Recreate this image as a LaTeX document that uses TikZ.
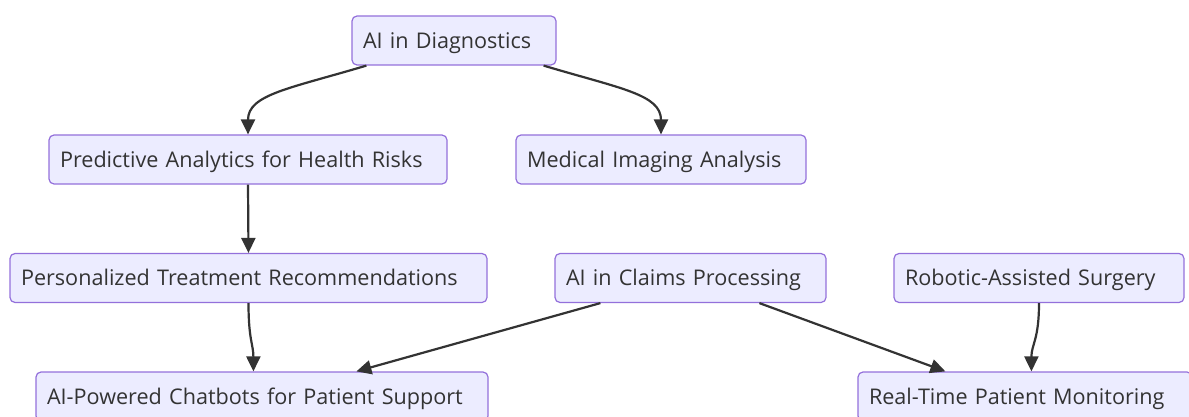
\documentclass[tikz,border=0pt]{standalone}
\usepackage{fontspec}
\setmainfont{Open Sans}
\usetikzlibrary{arrows.meta,calc}
\definecolor{nodefill}{HTML}{ECECFF}
\definecolor{nodeedge}{HTML}{9370DB}
\definecolor{inkgray}{HTML}{333333}
\tikzset{
  box/.style={draw=nodeedge, fill=nodefill, rounded corners=5pt, line width=1.2pt,
    minimum height=49pt, inner xsep=11pt, inner ysep=0pt, align=left,
    text height=15.4pt, text depth=0pt,
    text=inkgray, font=\fontsize{21.6}{24}\selectfont, anchor=center},
  link/.style={draw=inkgray, line width=2.2pt, -{Triangle[length=15pt,width=14pt]}}
}
\newcommand{\bx}[5]{\node[box, minimum width=#4pt, text width=#4pt-22pt] (#1) at (#2,#3) {#5};}
\begin{document}
\begin{tikzpicture}[x=1pt,y=-1pt]
\useasboundingbox (0,0) rectangle (1189,417);
\bx{diag}{454}{40.5}{204}{AI in Diagnostics}
\bx{pred}{248}{159.5}{398}{Predictive Analytics for Health Risks}
\bx{med}{661}{159.5}{290}{Medical Imaging Analysis}
\bx{pers}{248.5}{278}{477}{Personalized Treatment Recommendations}
\bx{claims}{690.5}{278}{271}{AI in Claims Processing}
\bx{robot}{1039}{278}{290}{Robotic-Assisted Surgery}
\bx{chat}{262}{396.5}{452}{AI-Powered Chatbots for Patient Support}
\bx{real}{1025}{396.5}{334}{Real-Time Patient Monitoring}
\draw[link] ([xshift=15pt]diag.south west) .. controls +(-77,23) and +(0,-40) .. (pred.north);
\draw[link] ([xshift=-13pt]diag.south east) .. controls +(77,23) and +(0,-40) .. (med.north);
\draw[link] (pred.south) -- (pers.north);
\draw[link] (pers.south) .. controls +(0,37) and +(0,-27) .. ([xshift=218pt]chat.north west);
\draw[link] ([xshift=46pt]claims.south west) -- ([xshift=321pt]chat.north west);
\draw[link] ([xshift=205pt]claims.south west) -- ([xshift=88pt]real.north west);
\draw[link] (robot.south) .. controls +(0,37) and +(0,-27) .. ([xshift=174pt]real.north west);
\end{tikzpicture}
\end{document}
